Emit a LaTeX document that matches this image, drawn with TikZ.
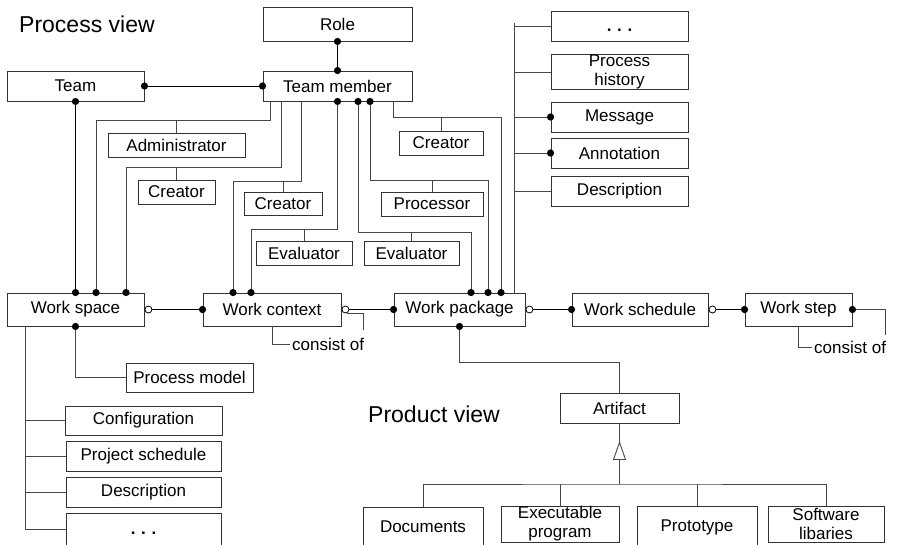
\documentclass[tikz,border=0pt]{standalone}
\usepackage{fontspec}
\setmainfont{Liberation Sans}
\begin{document}
\begin{tikzpicture}[x=1pt,y=-1pt,
  bx/.style={draw=black!80, line width=0.9pt, rectangle, inner sep=0pt, align=center, font=\fontsize{17}{19}\selectfont},
  dotbx/.style={draw=black!80, line width=0.9pt, rectangle, inner sep=0pt, text height=0pt, text depth=0pt, font=\fontsize{17}{19}\selectfont},
  cn/.style={draw=black!72, line width=0.9pt},
  mn/.style={draw=black, line width=1pt},
  lbl/.style={font=\fontsize{17}{19}\selectfont, inner sep=0pt, inner xsep=2pt},
  ttl/.style={font=\fontsize{23}{26}\selectfont, inner sep=0pt}
]
\fill[white] (0,0) rectangle (907,544);
\useasboundingbox (0,0) rectangle (907,544);

% titles
\node[ttl, anchor=base west] (pview) at (19,32) {Process view};
\node[ttl, anchor=base west] (prview) at (368,422) {Product view};

% top boxes
\node[bx, minimum width=149pt, minimum height=34pt] (role) at (337.5,24) {Role};
\node[bx, minimum width=149pt, minimum height=30pt] (tm) at (337.5,86) {Team member};
\node[bx, minimum width=137pt, minimum height=30pt] (team) at (75.5,86) {Team};
\node[bx, minimum width=137pt, minimum height=24pt] (admin) at (176.5,145) {Administrator};
\node[bx, minimum width=77pt, minimum height=24pt] (cr1) at (176.5,192) {Creator};
\node[bx, minimum width=78pt, minimum height=23pt] (cr2) at (283,203.5) {Creator};
\node[bx, minimum width=96pt, minimum height=24pt] (ev1) at (304,253) {Evaluator};
\node[bx, minimum width=95pt, minimum height=24pt] (ev2) at (411.5,253) {Evaluator};
\node[bx, minimum width=102pt, minimum height=24pt] (proc) at (432,204) {Processor};
\node[bx, minimum width=84pt, minimum height=24pt] (cr3) at (441,143) {Creator};

% right column
\node[dotbx, minimum width=137pt, minimum height=30pt] (r1) at (619.5,26) {\raisebox{-5pt}[0pt][0pt]{\textbf{.\,\,.\,\,.}}};
\node[bx, minimum width=137pt, minimum height=34pt] (r2) at (619.5,72) {Process\\history};
\node[bx, minimum width=137pt, minimum height=30pt] (r3) at (619.5,117) {Message};
\node[bx, minimum width=137pt, minimum height=30pt] (r4) at (619.5,153) {Annotation};
\node[bx, minimum width=137pt, minimum height=30pt] (r5) at (619.5,191) {Description};

% main row
\node[bx, minimum width=137pt, minimum height=33pt] (ws) at (75.5,309.5) {Work space};
\node[bx, minimum width=138pt, minimum height=33pt] (wc) at (272,309.5) {Work context};
\node[bx, minimum width=131pt, minimum height=33pt] (wp) at (459.5,309.5) {Work package};
\node[bx, minimum width=136pt, minimum height=33pt] (wsch) at (640,309.5) {Work schedule};
\node[bx, minimum width=107pt, minimum height=33pt] (wst) at (798.5,309.5) {Work step};

% lower left
\node[bx, minimum width=127pt, minimum height=29pt] (pm) at (189.5,377.5) {Process model};
\node[bx, minimum width=157pt, minimum height=29pt] (cfg) at (143.5,420.5) {Configuration};
\node[bx, minimum width=155pt, minimum height=30pt] (psch) at (143.5,456) {Project schedule};
\node[bx, minimum width=155pt, minimum height=30pt] (desc) at (143.5,492) {Description};
\node[dotbx, minimum width=155pt, minimum height=32pt] (dots) at (143.5,529) {\raisebox{-5pt}[0pt][0pt]{\textbf{.\,\,.\,\,.}}};

% product view
\node[bx, minimum width=119pt, minimum height=30pt] (art) at (619.5,408) {Artifact};
\node[bx, minimum width=120pt, minimum height=40pt] (doc) at (423,527) {Documents};
\node[bx, minimum width=118pt, minimum height=36pt] (exe) at (560,524) {Executable\\program};
\node[bx, minimum width=120pt, minimum height=42pt] (pro) at (697,527) {Prototype};
\node[bx, minimum width=116pt, minimum height=36pt] (sw) at (826,524) {Software\\libaries};

% labels
\node[lbl, anchor=west] (cs1) at (290,344) {consist of};
\node[lbl, anchor=west] (cs2) at (812,347) {consist of};
\coordinate (wsend) at (885,335);
\coordinate (hb) at (619.5,484);

% --- connectors ---
\draw[mn] (role.south) -- (tm.north);
\draw[mn] (team.east) -- (tm.west);
\draw[mn] (team.south) -- (ws.north);

\draw[cn] ([xshift=-67.5pt]tm.south) -- ++(0,19) -| ([xshift=20.5pt]ws.north);
\draw[cn] (admin.north) -- ++(0,-13);
\draw[cn] ([xshift=-56.5pt]tm.south) -- ++(0,66) -| ([xshift=50.5pt]ws.north);
\draw[cn] (cr1.north) -- ++(0,-13);
\draw[cn] ([xshift=-36.5pt]tm.south) -- ++(0,80) -| ([xshift=-39pt]wc.north);
\draw[cn] (cr2.north) -- ++(0,-11);
\draw[cn] (tm.south) -- ++(0,128) -| ([xshift=-21pt]wc.north);
\draw[cn] (ev1.north) -- ++(0,-12);
\draw[cn] ([xshift=20.5pt]tm.south) -- ++(0,131) -| ([xshift=11.5pt]wp.north);
\draw[cn] (ev2.north) -- ++(0,-9);
\draw[cn] ([xshift=32.5pt]tm.south) -- ++(0,79) -| ([xshift=28.5pt]wp.north);
\draw[cn] (proc.north) -- ++(0,-12);
\draw[cn] ([xshift=55.5pt]tm.south) -- ++(0,16) -| ([xshift=41.5pt]wp.north);
\draw[cn] (cr3.north) -- ++(0,-14);

% right column trunk
\draw[cn] ([xshift=54.5pt]wp.north) -- ++(0,-270);
\foreach \n in {r1,r2,r3,r4,r5} { \draw[cn] (\n.west) -- ++(-37,0); }

% main row links
\draw[mn] ([xshift=7.5pt]ws.east) -- (wc.west);
\draw[mn] ([xshift=7.5pt]wc.east) -- (wp.west);
\draw[cn] ([xshift=6pt,yshift=-3.5pt]wc.east) -| ([xshift=22pt,yshift=-20.5pt]wc.east);
\draw[mn] ([xshift=7.5pt]wp.east) -- (wsch.west);
\draw[mn] ([xshift=7.5pt]wsch.east) -- (wst.west);
\draw[cn] (wst.east) -| (wsend);
\draw[cn] (wc.south) |- (cs1.west);
\draw[cn] (wst.south) |- (cs2.west);

% lower left
\draw[cn] (ws.south) |- (pm.west);
\draw[cn] ([xshift=-50.5pt]ws.south) |- (dots.west);
\draw[cn] (cfg.west) -- ++(-40,0);
\draw[cn] (psch.west) -- ++(-41,0);
\draw[cn] (desc.west) -- ++(-41,0);

% product view
\draw[cn] (wp.south) -- ++(0,36) -| (art.north);
\draw[cn] (art.south) -- ++(0,19);
\draw[cn, fill=white] ([yshift=-19pt]art.south) -- ++(-6,17) -- ++(12,0) -- cycle;
\draw[cn] ([yshift=-36pt]art.south) -- (hb);
\draw[cn] (doc.north) |- (hb) -| (sw.north);
\draw[cn] (exe.north) -- (exe.north |- hb);
\draw[cn] (pro.north) -- (pro.north |- hb);

% filled dots
\foreach \p in {role.south, tm.north, team.east, tm.west, team.south, ws.north, tm.south, ws.south, wc.west, wp.west, wsch.west, wst.west, wst.east, wp.south, r3.west, r4.west}
  { \fill[black] (\p) circle[radius=3.6pt]; }
\fill[black] ([xshift=20.5pt]tm.south) circle[radius=3.6pt];
\fill[black] ([xshift=32.5pt]tm.south) circle[radius=3.6pt];
\fill[black] ([xshift=20.5pt]ws.north) circle[radius=3.6pt];
\fill[black] ([xshift=50.5pt]ws.north) circle[radius=3.6pt];
\fill[black] ([xshift=-39pt]wc.north) circle[radius=3.6pt];
\fill[black] ([xshift=-21pt]wc.north) circle[radius=3.6pt];
\fill[black] ([xshift=11.5pt]wp.north) circle[radius=3.6pt];
\fill[black] ([xshift=28.5pt]wp.north) circle[radius=3.6pt];
\fill[black] ([xshift=41.5pt]wp.north) circle[radius=3.6pt];

% open circles
\foreach \p in {ws.east, wc.east, wp.east, wsch.east}
  { \draw[black, line width=0.8pt, fill=white] ([xshift=4pt]\p) circle[radius=3.5pt]; }
\end{tikzpicture}
\end{document}
